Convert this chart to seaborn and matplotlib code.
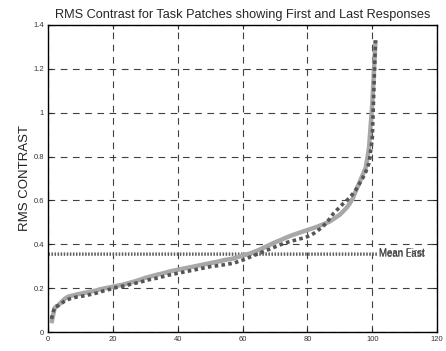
import matplotlib
matplotlib.use("Agg")
import matplotlib.pyplot as plt
import seaborn as sns
import pandas as pd
import numpy as np

# ---- data ----
patch_index = list(range(1, 102))
first_rms = [
    0.04, 0.11, 0.12, 0.135, 0.15, 0.16, 0.165, 0.168, 0.172, 0.175,
    0.178, 0.181, 0.184, 0.187, 0.19, 0.195, 0.198, 0.201, 0.204, 0.207,
    0.21, 0.213, 0.216, 0.22, 0.224, 0.228, 0.232, 0.237, 0.242, 0.247,
    0.251, 0.255, 0.259, 0.263, 0.266, 0.27, 0.274, 0.278, 0.281, 0.284,
    0.287, 0.29, 0.293, 0.296, 0.299, 0.302, 0.305, 0.308, 0.311, 0.314,
    0.317, 0.32, 0.323, 0.327, 0.33, 0.332, 0.335, 0.339, 0.344, 0.349,
    0.353, 0.357, 0.362, 0.368, 0.374, 0.381, 0.388, 0.395, 0.402, 0.409,
    0.415, 0.421, 0.428, 0.434, 0.44, 0.445, 0.45, 0.455, 0.46, 0.465,
    0.47, 0.475, 0.48, 0.486, 0.492, 0.498, 0.505, 0.515, 0.525, 0.535,
    0.55, 0.565, 0.585, 0.61, 0.645, 0.68, 0.715, 0.75, 0.84, 1.04,
    1.33,
]
last_rms = [
    0.06, 0.115, 0.12, 0.13, 0.14, 0.148, 0.153, 0.157, 0.16, 0.162,
    0.165, 0.168, 0.171, 0.175, 0.178, 0.183, 0.187, 0.191, 0.195, 0.2,
    0.203, 0.206, 0.209, 0.212, 0.216, 0.22, 0.223, 0.226, 0.23, 0.235,
    0.238, 0.241, 0.244, 0.247, 0.251, 0.255, 0.259, 0.262, 0.265, 0.268,
    0.271, 0.274, 0.277, 0.28, 0.283, 0.286, 0.289, 0.292, 0.295, 0.298,
    0.3, 0.302, 0.304, 0.306, 0.309, 0.311, 0.313, 0.318, 0.323, 0.328,
    0.333, 0.34, 0.346, 0.352, 0.358, 0.364, 0.37, 0.376, 0.382, 0.388,
    0.394, 0.4, 0.405, 0.41, 0.414, 0.418, 0.422, 0.426, 0.43, 0.435,
    0.442, 0.45, 0.46, 0.472, 0.485, 0.5, 0.52, 0.54, 0.555, 0.57,
    0.585, 0.598, 0.612, 0.63, 0.65, 0.675, 0.7, 0.73, 0.77, 0.88,
    1.33,
]
mean_first = 0.362
mean_last = 0.356
mean_x = [0, 101.5]
title = "RMS Contrast for Task Patches showing First and Last Responses"
ylabel = "RMS CONTRAST"
xticks = [0, 20, 40, 60, 80, 100, 120]
yticks = [0, 0.2, 0.4, 0.6, 0.8, 1.0, 1.2, 1.4]
ytick_labels = ["0", "0.2", "0.4", "0.6", "0.8", "1", "1.2", "1.4"]

sns.set_style("white")
plt.rcParams["font.family"] = ["Liberation Sans", "DejaVu Sans"]

fig = plt.figure(figsize=(4.46, 3.51), dpi=100)
ax = fig.add_axes([0.108, 0.054, 0.872, 0.875])

df = pd.DataFrame({"x": patch_index, "First": first_rms, "Last": last_rms})

sns.lineplot(data=df, x="x", y="First", ax=ax, color="#a8a8a8",
             linewidth=3.2, solid_capstyle="butt", zorder=3)
sns.lineplot(data=df, x="x", y="Last", ax=ax, color="#555555",
             linewidth=2.6, linestyle=(0, (1.0, 0.9)), zorder=4)

mdf = pd.DataFrame({"x": mean_x, "mf": [mean_first] * 2, "ml": [mean_last] * 2})
sns.lineplot(data=mdf, x="x", y="mf", ax=ax, color="#909090",
             linewidth=2.0, linestyle=(0, (0.5, 0.6)), zorder=2)
sns.lineplot(data=mdf, x="x", y="ml", ax=ax, color="#606060",
             linewidth=2.0, linestyle=(0, (0.5, 0.6)), zorder=2)

ax.text(102, mean_first, "Mean First", fontsize=7, color="#404040",
        va="center", ha="left", zorder=5)
ax.text(102, mean_last, "Mean Last", fontsize=7, color="#404040",
        va="center", ha="left", zorder=5)

ax.set_xlim(0, 120)
ax.set_ylim(0, 1.4)
ax.set_xticks(xticks)
ax.set_yticks(yticks)
ax.set_yticklabels(ytick_labels)
ax.grid(True, color="#404040", linestyle=(0, (6, 5)), linewidth=0.8)
ax.set_axisbelow(True)
ax.tick_params(axis="both", direction="in", length=3, width=0.8,
               labelsize=5.5, top=True, right=True, bottom=True, left=True,
               labelcolor="#333333", pad=3)
for s in ax.spines.values():
    s.set_color("black")
    s.set_linewidth(1.0)
ax.set_xlabel("")
ax.set_ylabel(ylabel, fontsize=9.5, labelpad=2, color="#222222")
ax.set_title(title, fontsize=9.2, pad=5)

fig.savefig("out.png", dpi=100)
